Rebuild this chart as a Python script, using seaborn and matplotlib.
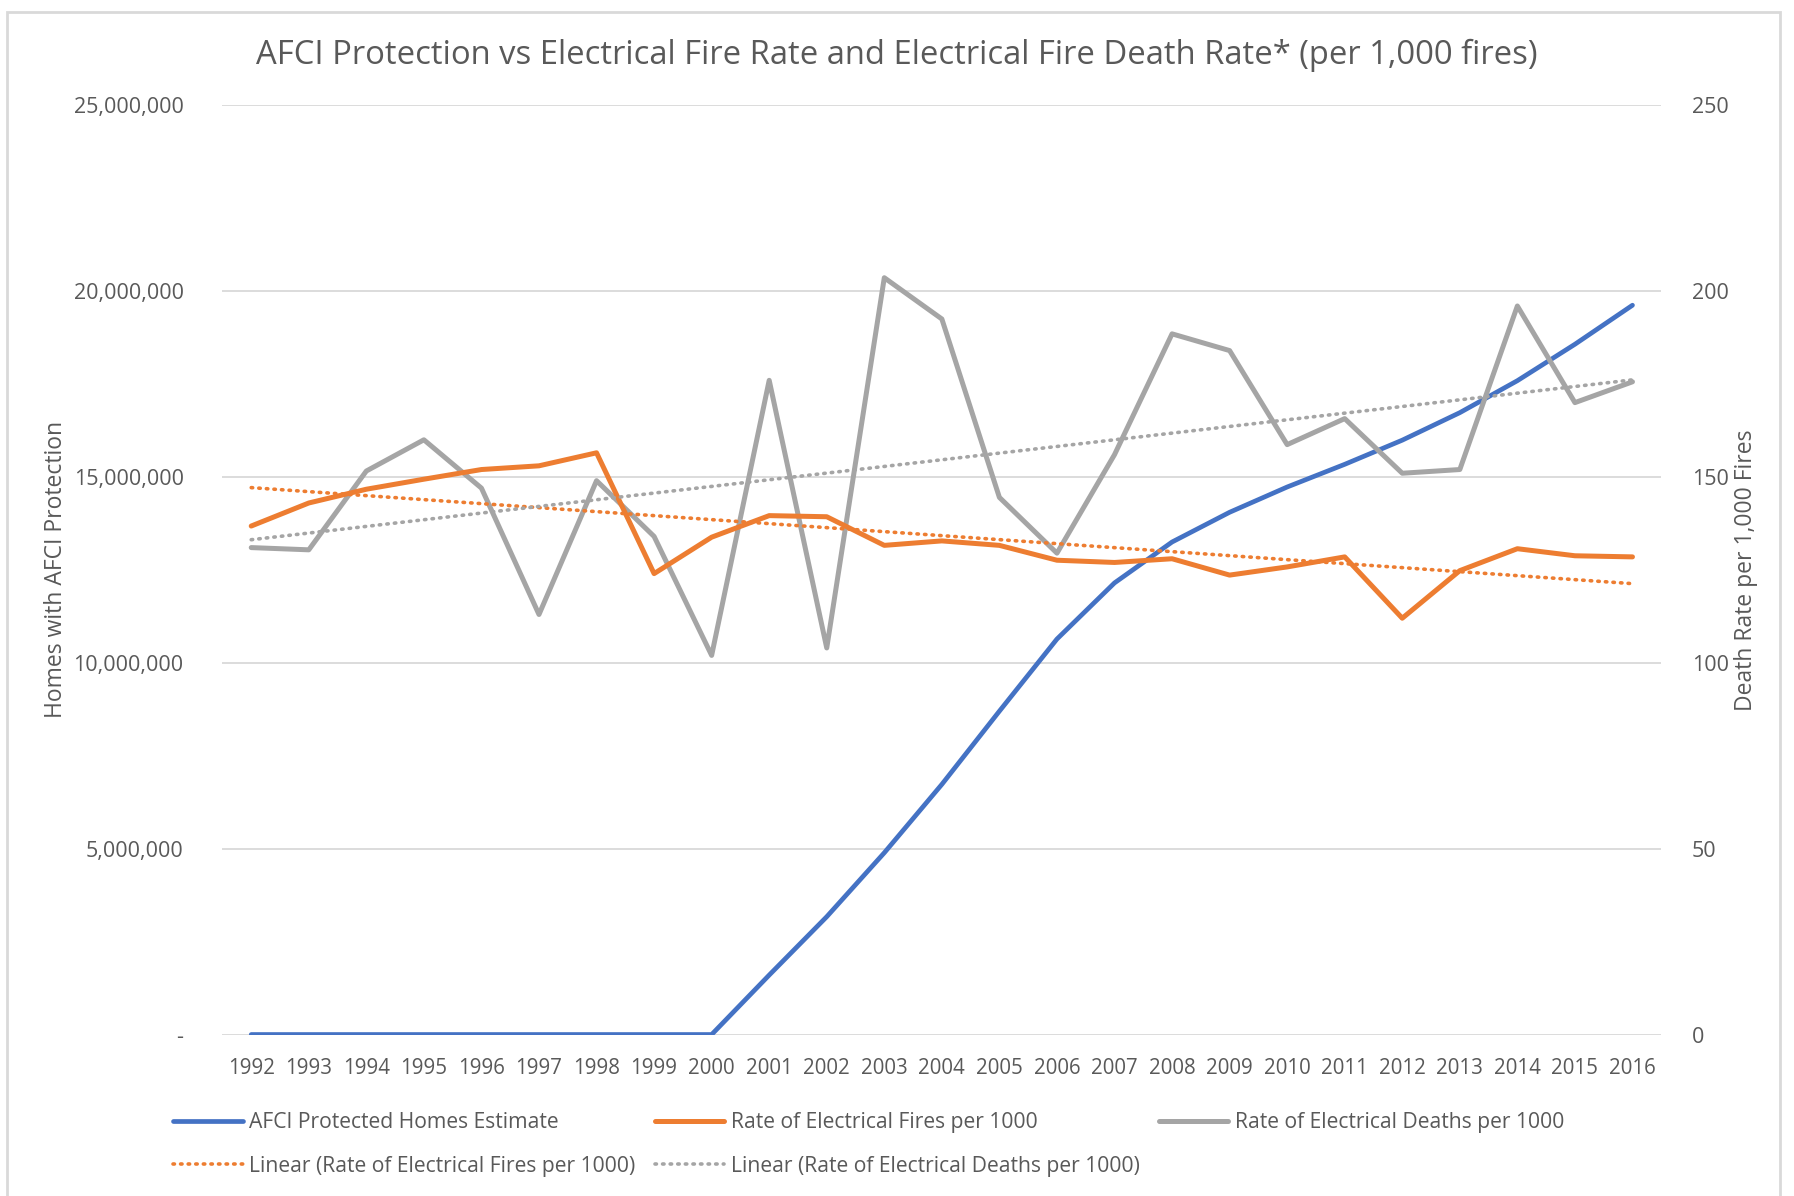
import numpy as np
import seaborn as sns
import matplotlib.pyplot as plt
import matplotlib.ticker as mticker
from matplotlib.patches import Rectangle

# Data
years = list(range(1992, 2017))

afci_homes = [0, 0, 0, 0, 0, 0, 0, 0, 0,
              1.60e6, 3.17e6, 4.89e6, 6.73e6, 8.70e6, 10.64e6, 12.15e6,
              13.25e6, 14.05e6, 14.73e6, 15.34e6, 15.99e6, 16.73e6,
              17.59e6, 18.57e6, 19.62e6]

fire_rate = [136.8, 143.0, 146.7, 149.4, 152.0, 153.0, 156.5, 124.0, 133.8,
             139.6, 139.3, 131.6, 132.8, 131.6, 127.6, 127.0, 128.0, 123.6,
             125.8, 128.5, 112.0, 124.8, 130.7, 128.8, 128.5]

death_rate = [131.0, 130.4, 151.6, 160.0, 147.0, 113.0, 149.0, 134.0, 102.0,
              176.0, 104.0, 203.6, 192.5, 144.5, 129.5, 156.0, 188.5, 184.0,
              158.7, 165.7, 151.0, 152.0, 196.0, 170.0, 175.6]

BLUE = "#4472C4"
ORANGE = "#ED7D31"
GRAY = "#A5A5A5"
TXT = "#595959"
GRID = "#D9D9D9"

sns.set_style("white")
plt.rcParams['font.family'] = ['Open Sans', 'DejaVu Sans']

fig = plt.figure(figsize=(17.94, 11.96), dpi=100)
ax = fig.add_axes([0.124, 0.135, 0.802, 0.777])
ax2 = ax.twinx()

# linear trendlines (least squares, like Excel)
x = np.array(years)
tf = np.polyval(np.polyfit(x, fire_rate, 1), x)
td = np.polyval(np.polyfit(x, death_rate, 1), x)

sns.lineplot(x=years, y=afci_homes, ax=ax, color=BLUE, lw=3.4,
             label="AFCI Protected Homes Estimate", legend=False)
sns.lineplot(x=years, y=death_rate, ax=ax2, color=GRAY, lw=3.6,
             label="Rate of Electrical Deaths per 1000", legend=False)
sns.lineplot(x=years, y=fire_rate, ax=ax2, color=ORANGE, lw=3.6,
             label="Rate of Electrical Fires per 1000", legend=False)
dots = (0, (0.4, 1.7))
ax2.plot(x, tf, color=ORANGE, lw=2.6, ls=dots, dash_capstyle="round",
         label="Linear (Rate of Electrical Fires per 1000)")
ax2.plot(x, td, color=GRAY, lw=2.6, ls=dots, dash_capstyle="round",
         label="Linear (Rate of Electrical Deaths per 1000)")

ax.set_xlim(1991.5, 2016.5)
ax.set_ylim(0, 25e6)
ax2.set_ylim(0, 250)
ax.set_yticks(np.arange(0, 25e6 + 1, 5e6))
ax2.set_yticks(np.arange(0, 251, 50))
ax.yaxis.set_major_formatter(mticker.FuncFormatter(
    lambda v, p: "-" if v == 0 else f"{v:,.0f}"))
ax.set_xticks(years)
ax.set_xticklabels([str(y) for y in years])

ax.grid(axis="y", color=GRID, lw=1.3)
ax.set_axisbelow(True)
for a in (ax, ax2):
    for s in a.spines.values():
        s.set_visible(False)
    a.tick_params(length=0, labelsize=15.5, colors=TXT)
ax.tick_params(axis="y", pad=28)
ax2.tick_params(axis="y", pad=22)
ax.tick_params(axis="x", pad=17, labelsize=14.8)

ax.set_ylabel("Homes with AFCI Protection", fontsize=16.5, color=TXT, labelpad=4)
ax2.set_ylabel("Death Rate per 1,000 Fires", fontsize=16.5, color=TXT, labelpad=4)

fig.suptitle("AFCI Protection vs Electrical Fire Rate and Electrical Fire Death Rate* (per 1,000 fires)",
             fontsize=23.6, color=TXT, y=0.968)

# legend: column-major fill gives 3 items on row 1, 2 on row 2
h1, l1 = ax.get_legend_handles_labels()
h2, l2 = ax2.get_legend_handles_labels()
hd = dict(zip(l1 + l2, h1 + h2))
order = ["AFCI Protected Homes Estimate", "Linear (Rate of Electrical Fires per 1000)",
         "Rate of Electrical Fires per 1000", "Linear (Rate of Electrical Deaths per 1000)",
         "Rate of Electrical Deaths per 1000"]
leg = fig.legend([hd[k] for k in order], order, ncol=3, loc="upper left",
                 bbox_to_anchor=(0.092, 0.077), frameon=False, fontsize=15.2,
                 handlelength=3.3, handletextpad=0.3, columnspacing=0.9,
                 labelspacing=1.05, borderaxespad=0)
for t in leg.get_texts():
    t.set_color(TXT)

# chart border
fig.patches.append(Rectangle((0.004, -0.01), 0.988, 1.0, transform=fig.transFigure,
                             fill=False, edgecolor=GRID, lw=2))

fig.savefig("out.png", dpi=100)
